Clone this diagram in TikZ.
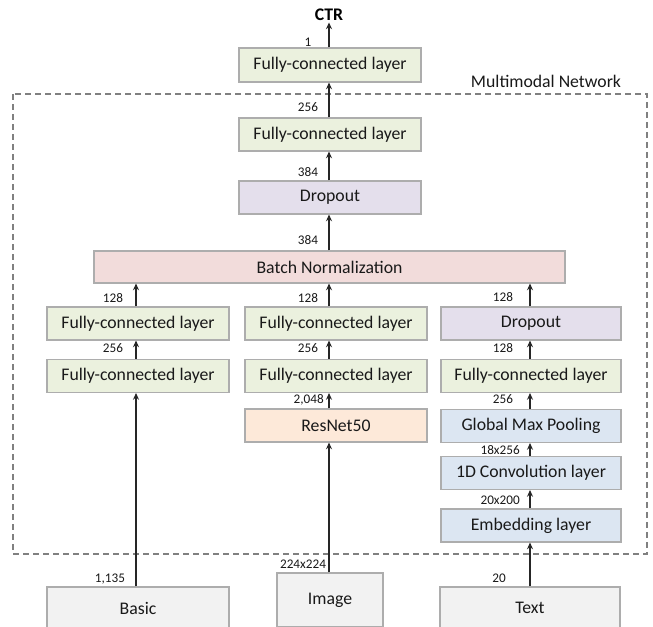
\documentclass[tikz,border=0pt]{standalone}
\usepackage{fontspec}
\setmainfont{Carlito}
\usepackage{xcolor}
\definecolor{fcGreen}{HTML}{EBF1DE}
\definecolor{dropLilac}{HTML}{E4DFEC}
\definecolor{bnPink}{HTML}{F2DCDB}
\definecolor{resPeach}{HTML}{FDE9D9}
\definecolor{txtBlue}{HTML}{DCE6F2}
\definecolor{inGray}{HTML}{F2F2F2}
\definecolor{edgeGray}{HTML}{ADADAD}
\definecolor{frameGray}{HTML}{808080}
\usetikzlibrary{arrows.meta}
\tikzset{
    layer/.style={draw=edgeGray, line width=0.8pt, inner sep=0pt, text=black!90,
                  minimum width=136.5pt, minimum height=24.75pt,
                  font=\fontsize{13.3}{16}\selectfont},
    fcbox/.style={layer, fill=fcGreen},
    dropbox/.style={layer, fill=dropLilac},
    bnbox/.style={layer, fill=bnPink, minimum width=353.25pt, minimum height=24pt},
    resbox/.style={layer, fill=resPeach},
    textbox/.style={layer, fill=txtBlue, minimum width=135pt},
    inbox/.style={layer, fill=inGray, minimum height=31.5pt},
    dim/.style={inner sep=0pt, text=black!90, font=\fontsize{9.9}{12}\selectfont},
    flow/.style={draw=black!85, line width=1pt, -{Stealth[length=5pt,width=4.5pt]}},
    netframe/.style={draw=frameGray, line width=0.8pt, dash pattern=on 4.5pt off 3pt}
}

\begin{document}
\begin{tikzpicture}[x=0.75pt, y=-0.75pt]
  % page size of the reference
  \clip (0,0) rectangle (653,626);
  \fill[white] (0,0) rectangle (653,626);

  % arrow columns
  \coordinate (colL) at (136,0);
  \coordinate (colM) at (329,0);
  \coordinate (colR) at (530,0);

  % network frame
  \draw[netframe] (13,94) rectangle (647,554);
  \node[font=\fontsize{13.3}{16}\selectfont, text=black!90] (netname) at (546,81) {Multimodal Network};

  % head
  \node[font=\fontsize{13.3}{16}\selectfont\bfseries, inner sep=1pt] (ctr) at (329,15) {CTR};
  \node[fcbox, minimum height=25.5pt] (fcOut) at (330,65) {Fully-connected layer};
  \node[fcbox] (fcTop) at (330,134.5) {Fully-connected layer};
  \node[dropbox] (dropTop) at (330,197.5) {Dropout};
  \node[bnbox] (batch) at (329.5,267) {Batch Normalization};

  % basic branch
  \node[fcbox] (fcL1) at (138,323.5) {Fully-connected layer};
  \node[fcbox] (fcL2) at (138,376) {Fully-connected layer};

  % image branch
  \node[fcbox] (fcM1) at (336,323.5) {Fully-connected layer};
  \node[fcbox] (fcM2) at (336,376) {Fully-connected layer};
  \node[resbox] (resnet) at (336,425.5) {ResNet50};

  % text branch
  \node[dropbox, minimum width=135pt] (dropR) at (531,323.5) {Dropout};
  \node[fcbox, minimum width=135pt] (fcR) at (531,376) {Fully-connected layer};
  \node[textbox] (gmp) at (531,426) {Global Max Pooling};
  \node[textbox] (conv) at (531,473) {1D Convolution layer};
  \node[textbox] (emb) at (531,525.5) {Embedding layer};

  % inputs (cut by the page edge)
  \node[inbox] (basic) at (138,608) {Basic};
  \node[inbox, minimum width=79.5pt, minimum height=40.5pt] (image) at (330,600) {Image};
  \node[inbox, minimum width=135pt] (text) at (530,608) {Text};

  % connectors
  \draw[flow] (fcOut.north -| colM) -- (ctr.south -| colM);
  \draw[flow] (fcTop.north -| colM) -- (fcOut.south -| colM);
  \draw[flow] (dropTop.north -| colM) -- (fcTop.south -| colM);
  \draw[flow] (batch.north -| colM) -- (dropTop.south -| colM);

  \draw[flow] (fcL1.north -| colL) -- (batch.south -| colL);
  \draw[flow] (fcL2.north -| colL) -- (fcL1.south -| colL);
  \draw[flow] (basic.north -| colL) -- (fcL2.south -| colL);

  \draw[flow] (fcM1.north -| colM) -- (batch.south -| colM);
  \draw[flow] (fcM2.north -| colM) -- (fcM1.south -| colM);
  \draw[flow] (resnet.north -| colM) -- (fcM2.south -| colM);
  \draw[flow] (image.north -| colM) -- (resnet.south -| colM);

  \draw[flow] (dropR.north -| colR) -- (batch.south -| colR);
  \draw[flow] (fcR.north -| colR) -- (dropR.south -| colR);
  \draw[flow] (gmp.north -| colR) -- (fcR.south -| colR);
  \draw[flow] (conv.north -| colR) -- (gmp.south -| colR);
  \draw[flow] (emb.north -| colR) -- (conv.south -| colR);
  \draw[flow] (text.north -| colR) -- (emb.south -| colR);

  % sizes on the connectors
  \node[dim] (d1) at (308,42) {1};
  \node[dim] (d2) at (308,107) {256};
  \node[dim] (d3) at (308,172) {384};
  \node[dim] (d4) at (308,240) {384};
  \node[dim] (d5) at (113,298) {128};
  \node[dim] (d6) at (308,298) {128};
  \node[dim] (d7) at (503,297) {128};
  \node[dim] (d8) at (113,348) {256};
  \node[dim] (d9) at (308,348) {256};
  \node[dim] (d10) at (503,348) {128};
  \node[dim, anchor=east] (d11) at (324,400) {2,048};
  \node[dim] (d12) at (503,399) {256};
  \node[dim, anchor=east] (d13) at (520,450) {18x256};
  \node[dim, anchor=east] (d14) at (520,500) {20x200};
  \node[dim] (d15) at (110,579) {1,135};
  \node[dim] (d16) at (303,564) {224x224};
  \node[dim] (d17) at (499,578) {20};
\end{tikzpicture}
\end{document}
